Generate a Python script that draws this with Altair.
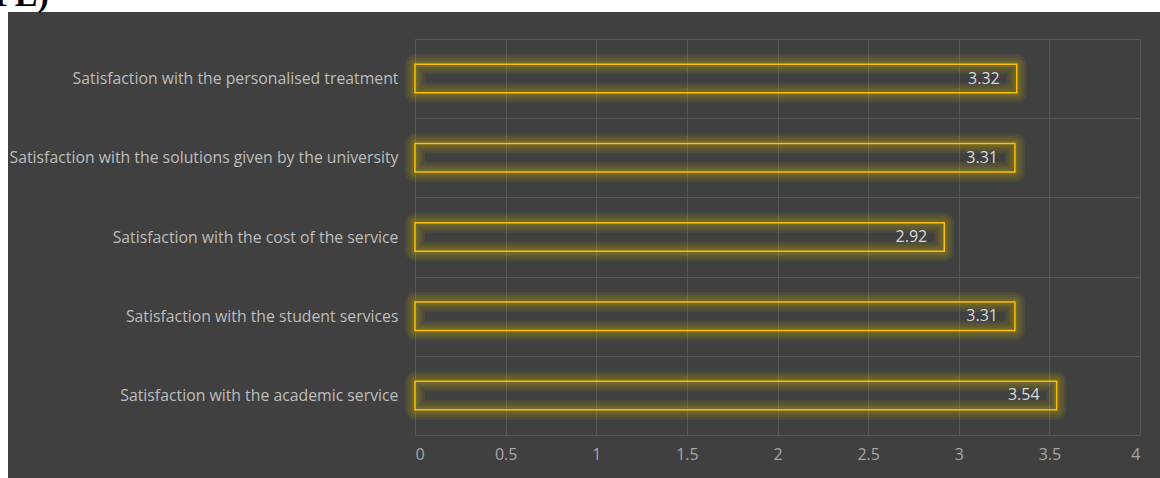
import altair as alt
import pandas as pd

categories = [
    "Satisfaction with the personalised treatment",
    "Satisfaction with the solutions given by the university",
    "Satisfaction with the cost of the service",
    "Satisfaction with the student services",
    "Satisfaction with the academic service",
]
values = [3.32, 3.31, 2.92, 3.31, 3.54]
labels = ["3.32", "3.31", "2.92", "3.31", "3.54"]
x_ticks = [0, 0.5, 1, 1.5, 2, 2.5, 3, 3.5, 4]

df = pd.DataFrame({"cat": categories, "val": values, "lab": labels})

W, H = 725, 396
PAD_L, PAD_T = 415, 39

x_enc = alt.X(
    "val:Q",
    scale=alt.Scale(domain=[0, 4], nice=False, zero=True),
    axis=alt.Axis(
        values=x_ticks, format="~g", title=None, grid=True, gridColor="#575757",
        gridWidth=1, ticks=False, domain=False, labelColor="#a6a6a6",
        labelFont="Open Sans", labelFontSize=16, labelPadding=11,
    ),
)
y_enc = alt.Y(
    "cat:N",
    sort=categories,
    scale=alt.Scale(paddingInner=0, paddingOuter=0),
    axis=alt.Axis(
        title=None, grid=True, gridColor="#575757", tickBand="extent",
        ticks=False, domain=False, labelColor="#bdbdbd", labelFont="Open Sans",
        labelFontSize=15.8, labelPadding=17, labelLimit=500,
    ),
)

base = alt.Chart(df)

glow_layers = []
for sw in [20, 15, 10, 6]:
    glow_layers.append(
        base.mark_bar(
            height=alt.RelativeBandSize(0.36), fill="#404040", fillOpacity=0,
            stroke="#d0bc00", strokeOpacity=0.09, strokeWidth=sw, strokeJoin="round",
        ).encode(x=x_enc, y=y_enc)
    )

bars = base.mark_bar(
    height=alt.RelativeBandSize(0.36), fillOpacity=0, stroke="#FFC000",
    strokeWidth=1.5,
).encode(x=x_enc, y=y_enc)

text = base.mark_text(
    align="right", baseline="middle", dx=-17, color="#d9d9d9",
    font="Open Sans", fontSize=16,
).encode(x=x_enc, y=y_enc, text="lab:N")

deco = pd.DataFrame({"t": ["FL)"]})
white_top = alt.Chart(deco).mark_rect(color="white").encode(
    x=alt.value(-PAD_L), x2=alt.value(W + 30), y=alt.value(-PAD_T), y2=alt.value(-27)
)
white_left = alt.Chart(deco).mark_rect(color="white").encode(
    x=alt.value(-PAD_L), x2=alt.value(-PAD_L + 8), y=alt.value(-PAD_T), y2=alt.value(H + 60)
)
corner_text = alt.Chart(deco).mark_text(
    align="left", baseline="alphabetic", font="Liberation Serif", fontWeight="bold",
    fontSize=34, color="black",
).encode(x=alt.value(-PAD_L - 6), y=alt.value(-PAD_T + 6), text="t:N")

chart = alt.layer(
    *glow_layers, bars, text, white_top, white_left, corner_text
).properties(
    width=W, height=H,
    autosize=alt.AutoSizeParams(type="none"),
    padding={"left": PAD_L, "top": PAD_T, "right": 20, "bottom": 43},
    background="#404040",
).configure_view(stroke=None)

chart.save("out.html", embed_options={"renderer": "svg", "actions": False})
